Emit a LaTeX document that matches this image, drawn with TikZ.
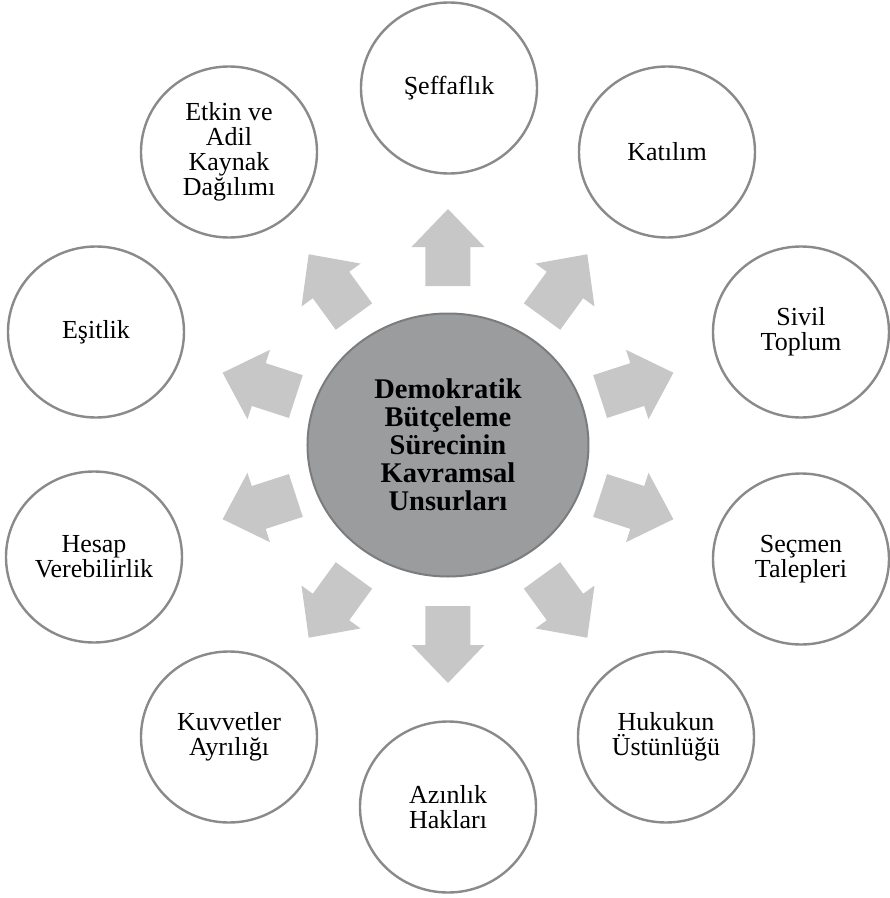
\documentclass[tikz,border=0pt]{standalone}
\usepackage{fontspec}
\setmainfont{Liberation Serif}
\usepackage{tikz}
\usetikzlibrary{shapes.geometric}

\definecolor{ringgray}{HTML}{8A8A8A}
\definecolor{coregray}{HTML}{9A9C9E}
\definecolor{coreline}{HTML}{7A7C7E}
\definecolor{arrowgray}{HTML}{C7C7C7}

\begin{document}
\begin{tikzpicture}[x=1pt, y=1pt]
			\tikzstyle{Core}	= [ellipse, draw=coreline, line width=2pt, fill=coregray, minimum width=281pt, minimum height=263pt, inner sep=0pt, align=center, font=\fontsize{28.5}{28}\selectfont\bfseries]
			\tikzstyle{Item}	= [ellipse, draw=ringgray, line width=2.4pt, fill=white, minimum width=176pt, minimum height=171pt, inner sep=0pt, align=center, font=\fontsize{26}{25}\selectfont]
			\tikzstyle{Arrow}	= [fill=arrowgray]

			\useasboundingbox (-448, -452) rectangle (442, 446);

			\node (core) at (0, 1) [Core] {Demokratik\\Bütçeleme\\Sürecinin\\Kavramsal\\Unsurları};

			\node (seffaf) at (1, 358) [Item] {Şeffaflık};
			\node (katilim) at (219, 294) [Item] {Katılım};
			\node (sivil) at (353, 114) [Item] {Sivil\\Toplum};
			\node (secmen) at (353, -113) [Item] {Seçmen\\Talepleri};
			\node (hukuk) at (218, -291) [Item] {Hukukun\\Üstünlüğü};
			\node (azinlik) at (0, -361) [Item] {Azınlık\\Hakları};
			\node (kuvvet) at (-219, -291) [Item] {Kuvvetler\\Ayrılığı};
			\node (hesap) at (-354, -111) [Item] {Hesap\\Verebilirlik};
			\node (esitlik) at (-352, 114) [Item] {Eşitlik};
			\node (etkin) at (-219, 294) [Item] {Etkin ve\\Adil\\Kaynak\\Dağılımı};

			% block arrows pointing out from the core
			\fill [Arrow, rotate=90]   (160,-22.5) -- (199,-22.5) -- (199,-36.5) -- (237,0) -- (199,36.5) -- (199,22.5) -- (160,22.5) -- cycle;
			\fill [Arrow, rotate=54]   (160,-22.5) -- (199,-22.5) -- (199,-36.5) -- (237,0) -- (199,36.5) -- (199,22.5) -- (160,22.5) -- cycle;
			\fill [Arrow, rotate=18]   (160,-22.5) -- (199,-22.5) -- (199,-36.5) -- (237,0) -- (199,36.5) -- (199,22.5) -- (160,22.5) -- cycle;
			\fill [Arrow, rotate=-18]  (160,-22.5) -- (199,-22.5) -- (199,-36.5) -- (237,0) -- (199,36.5) -- (199,22.5) -- (160,22.5) -- cycle;
			\fill [Arrow, rotate=-54]  (160,-22.5) -- (199,-22.5) -- (199,-36.5) -- (237,0) -- (199,36.5) -- (199,22.5) -- (160,22.5) -- cycle;
			\fill [Arrow, rotate=-90]  (160,-22.5) -- (199,-22.5) -- (199,-36.5) -- (237,0) -- (199,36.5) -- (199,22.5) -- (160,22.5) -- cycle;
			\fill [Arrow, rotate=-126] (160,-22.5) -- (199,-22.5) -- (199,-36.5) -- (237,0) -- (199,36.5) -- (199,22.5) -- (160,22.5) -- cycle;
			\fill [Arrow, rotate=198]  (160,-22.5) -- (199,-22.5) -- (199,-36.5) -- (237,0) -- (199,36.5) -- (199,22.5) -- (160,22.5) -- cycle;
			\fill [Arrow, rotate=162]  (160,-22.5) -- (199,-22.5) -- (199,-36.5) -- (237,0) -- (199,36.5) -- (199,22.5) -- (160,22.5) -- cycle;
			\fill [Arrow, rotate=126]  (160,-22.5) -- (199,-22.5) -- (199,-36.5) -- (237,0) -- (199,36.5) -- (199,22.5) -- (160,22.5) -- cycle;
		\end{tikzpicture}
\end{document}
